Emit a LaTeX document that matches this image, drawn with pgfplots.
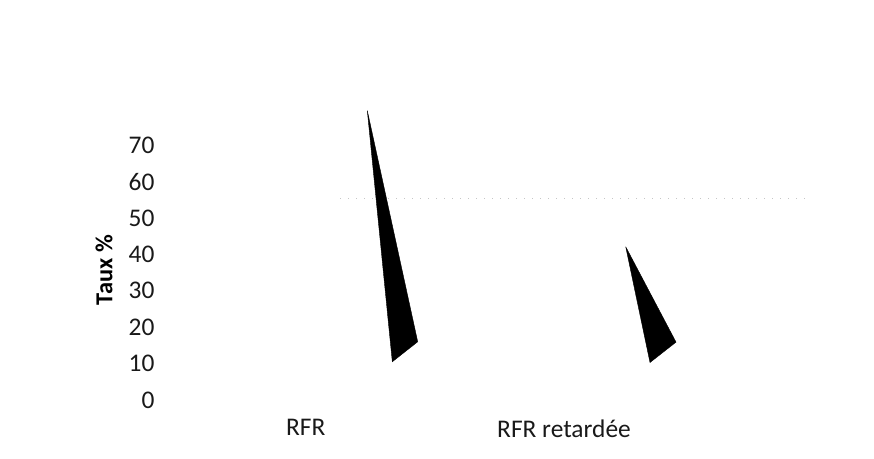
\documentclass[border=0pt]{standalone}
\usepackage{pgfplots}
\pgfplotsset{compat=1.18}
\usepackage{fontspec}
\setmainfont{Carlito}
\usetikzlibrary{calc}

% Cone outlines (x in drawing units along the category axis, y in %)
\pgfplotstableread{
x     y
367.3 79.5
392.3 10.5
417.7 16.0
367.3 79.5
}\coneRFR
\pgfplotstableread{
x     y
625.7 42.1
650.0 10.3
676.0 15.9
625.7 42.1
}\coneRet

\begin{document}
\begin{tikzpicture}
\begin{axis}[
  name=ax,
  scale only axis,
  width=640bp, height=291.2bp,
  xmin=175, xmax=815,
  ymin=0, ymax=80,
  clip=false,
  axis line style={draw=none},
  major tick length=0pt,
  xtick={305.7,564},
  xticklabels={RFR, RFR retardée},
  ytick={0,10,20,30,40,50,60,70},
  tick label style={font=\fontsize{25.5}{28}\selectfont, text=black!90},
  yticklabel style={xshift=-17bp},
  xticklabel style={yshift=-16bp},
  /pgf/number format/assume math mode=true,
  ylabel={\textbf{Taux \%}},
  ylabel style={font=\fontsize{24.5}{27}\selectfont, at={(axis description cs:-0.111,0.446)}, anchor=center, rotate=0},
]
  % faint remains of a back-wall gridline
  \draw[gray!45, dash pattern=on 1bp off 7bp] (axis cs:340,55.5) -- (axis cs:810,55.5);
  \addplot[draw=black, fill=black, line width=0.4pt] table {\coneRFR};
  \addplot[draw=black, fill=black, line width=0.4pt] table {\coneRet};
\end{axis}
\pgfresetboundingbox
\path ($(ax.south west)+(-175bp,-59bp)$) rectangle ($(ax.north east)+(59bp,108.8bp)$);
\end{tikzpicture}
\end{document}
